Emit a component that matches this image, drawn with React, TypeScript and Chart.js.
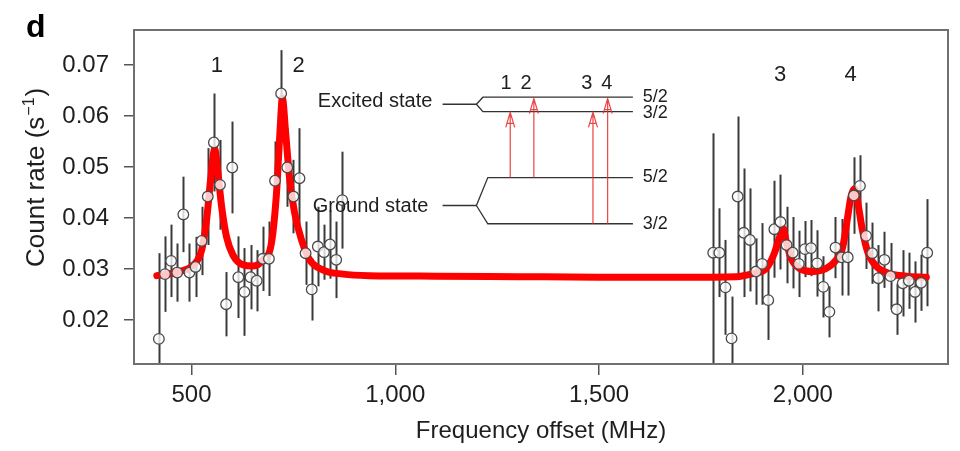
import React, { useEffect, useRef } from "react";
import { Chart, registerables } from "chart.js";

Chart.register(...registerables);

// ---- Data ----
const leftFreq = [420, 435, 450, 465, 480, 495, 510, 525, 540, 555, 570, 585, 600, 615, 630, 645, 660, 675, 690, 705, 720, 735, 750, 765, 780, 795, 810, 825, 840, 855, 870];
const leftRate = [0.0163, 0.029, 0.0316, 0.0293, 0.0407, 0.0293, 0.0304, 0.0355, 0.0442, 0.0548, 0.0465, 0.0231, 0.0499, 0.0284, 0.0255, 0.0284, 0.0277, 0.032, 0.032, 0.0473, 0.0644, 0.0499, 0.0442, 0.0478, 0.0331, 0.026, 0.0344, 0.0333, 0.0348, 0.0318, 0.0435];
const leftErr = [0.0168, 0.0074, 0.0071, 0.0057, 0.0074, 0.0057, 0.0059, 0.0067, 0.0095, 0.0096, 0.0088, 0.0063, 0.009, 0.008, 0.0086, 0.0063, 0.006, 0.0063, 0.0073, 0.0077, 0.0085, 0.0077, 0.0072, 0.0098, 0.0062, 0.0061, 0.0078, 0.0054, 0.0067, 0.0075, 0.0095];

const rightFreq = [1780, 1795, 1810, 1825, 1840, 1855, 1870, 1885, 1900, 1915, 1930, 1945, 1960, 1975, 1990, 2005, 2020, 2035, 2050, 2065, 2080, 2095, 2110, 2125, 2140, 2155, 2170, 2185, 2200, 2215, 2230, 2245, 2260, 2275, 2290, 2305];
const rightRate = [0.0332, 0.0332, 0.0264, 0.0164, 0.0442, 0.0371, 0.0357, 0.0295, 0.031, 0.0239, 0.0378, 0.0392, 0.0347, 0.0332, 0.031, 0.0339, 0.0341, 0.0311, 0.0265, 0.0216, 0.0342, 0.0323, 0.0323, 0.0444, 0.0463, 0.0365, 0.0331, 0.0282, 0.0318, 0.0286, 0.0221, 0.0272, 0.0277, 0.0255, 0.0273, 0.0332];
const rightErr = [0.0234, 0.0087, 0.0093, 0.0082, 0.0157, 0.0126, 0.0101, 0.0065, 0.008, 0.0078, 0.0095, 0.0093, 0.0075, 0.007, 0.0065, 0.0055, 0.0055, 0.0065, 0.006, 0.005, 0.006, 0.0075, 0.0075, 0.0075, 0.006, 0.0065, 0.006, 0.0065, 0.0055, 0.0065, 0.005, 0.0065, 0.0055, 0.006, 0.0055, 0.0105];

// Fit curve
const fitFreq = [415, 470, 505, 525, 537, 547, 557, 565, 574, 586, 602, 627, 651, 676, 696, 708, 717, 723, 731, 741, 753, 770, 790, 823, 872, 937, 1100, 1300, 1500, 1700, 1836, 1877, 1910, 1930, 1943, 1951, 1959, 1971, 1992, 2025, 2057, 2082, 2098, 2110, 2118, 2127, 2135, 2146, 2160, 2180, 2213, 2254, 2303];
const fitRate = [0.0287, 0.0295, 0.0308, 0.0337, 0.0396, 0.0475, 0.0535, 0.0488, 0.0422, 0.0363, 0.0327, 0.0308, 0.0306, 0.0318, 0.035, 0.0442, 0.0567, 0.0635, 0.0567, 0.0475, 0.041, 0.0357, 0.0318, 0.0298, 0.029, 0.0287, 0.0286, 0.0285, 0.0284, 0.0284, 0.0285, 0.0291, 0.0301, 0.0331, 0.0363, 0.038, 0.0354, 0.0321, 0.0301, 0.0295, 0.0301, 0.0318, 0.0344, 0.0403, 0.0442, 0.0458, 0.0429, 0.0376, 0.0331, 0.0305, 0.0291, 0.0286, 0.0284];

const xTicks = [500, 1000, 1500, 2000];
const yTicks = [0.02, 0.03, 0.04, 0.05, 0.06, 0.07];
const xRange = [359, 2356];
const yRange = [0.01138, 0.07685];

const peakNames = ["1", "2", "3", "4"];
const peakFreq = [562, 763, 1944, 2117];
const peakRate = [0.0698, 0.0698, 0.068, 0.068];

const xTitle = "Frequency offset (MHz)";
const yTitleMain = "Count rate (s";
const yTitleSup = "\u22121";
const panelLetter = "d";

const FONT = "'Liberation Sans', Arial, Helvetica, sans-serif";
const TEXT = "#1e1e1e";

const overlay = {
  id: "overlay",
  beforeDatasetsDraw(chart: any) {
    const { ctx, chartArea: a } = chart;
    const xs = chart.scales.x;
    const ys = chart.scales.y;
    ctx.save();
    ctx.beginPath();
    ctx.rect(a.left, a.top, a.right - a.left, a.bottom - a.top);
    ctx.clip();
    ctx.strokeStyle = "#3a3a3a";
    ctx.lineWidth = 2;
    const groups: [number[], number[], number[]][] = [
      [leftFreq, leftRate, leftErr],
      [rightFreq, rightRate, rightErr],
    ];
    groups.forEach(([f, r, e]) => {
      f.forEach((fv, i) => {
        const px = Math.round(xs.getPixelForValue(fv)) + 0.5;
        ctx.beginPath();
        ctx.moveTo(px, ys.getPixelForValue(r[i] - e[i]));
        ctx.lineTo(px, ys.getPixelForValue(r[i] + e[i]));
        ctx.stroke();
      });
    });
    ctx.restore();
  },
  afterDraw(chart: any) {
    const { ctx, chartArea: a } = chart;
    const xs = chart.scales.x;
    const ys = chart.scales.y;
    const X = (v: number) => xs.getPixelForValue(v);
    const Y = (v: number) => ys.getPixelForValue(v);
    ctx.save();

    // frame
    ctx.strokeStyle = "#707070";
    ctx.lineWidth = 2;
    ctx.strokeRect(a.left, a.top, a.right - a.left, a.bottom - a.top);

    // peak labels
    ctx.fillStyle = TEXT;
    ctx.font = `22px ${FONT}`;
    ctx.textAlign = "center";
    ctx.textBaseline = "middle";
    peakNames.forEach((n, i) => ctx.fillText(n, X(peakFreq[i]), Y(peakRate[i])));

    // inset: level diagram
    ctx.strokeStyle = "#333";
    ctx.lineWidth = 1.3;
    const line = (pts: number[][]) => {
      ctx.beginPath();
      pts.forEach(([f, r], k) => (k ? ctx.lineTo(X(f), Y(r)) : ctx.moveTo(X(f), Y(r))));
      ctx.stroke();
    };
    // excited
    line([[1116, 0.0623], [1199, 0.0623], [1215, 0.06368], [1583, 0.06368]]);
    line([[1199, 0.0623], [1215, 0.06086], [1583, 0.06086]]);
    // ground
    line([[1116, 0.04245], [1199, 0.04245], [1227, 0.04793], [1583, 0.04793]]);
    line([[1199, 0.04245], [1227, 0.03887], [1583, 0.03887]]);

    ctx.font = `20px ${FONT}`;
    ctx.textAlign = "left";
    ctx.fillText("Excited state", X(810), Y(0.0628));
    ctx.fillText("Ground state", X(797.5), Y(0.04225));

    ctx.font = `18px ${FONT}`;
    ctx.fillText("5/2", X(1607), Y(0.0637));
    ctx.fillText("3/2", X(1607), Y(0.0605));
    ctx.fillText("5/2", X(1607), Y(0.0481));
    ctx.fillText("3/2", X(1607), Y(0.0389));

    ctx.font = `20px ${FONT}`;
    ctx.textAlign = "center";
    [["1", 1272], ["2", 1321], ["3", 1470], ["4", 1519]].forEach(([t, f]) =>
      ctx.fillText(t as string, X(f as number), Y(0.0664))
    );

    // arrows
    ctx.strokeStyle = "rgba(232,48,48,0.9)";
    ctx.lineWidth = 1.2;
    const arrow = (f: number, r0: number, r1: number) => {
      const x = X(f);
      const y0 = Y(r0);
      const y1 = Y(r1);
      ctx.beginPath();
      ctx.moveTo(x, y0);
      ctx.lineTo(x, y1);
      ctx.moveTo(x - 4.5, y1 + 15);
      ctx.lineTo(x, y1);
      ctx.lineTo(x + 4.5, y1 + 15);
      ctx.moveTo(x - 3.2, y1 + 11);
      ctx.lineTo(x + 3.2, y1 + 11);
      ctx.stroke();
    };
    arrow(1282, 0.04793, 0.0607);
    arrow(1340, 0.04793, 0.0634);
    arrow(1485, 0.03887, 0.0607);
    arrow(1521, 0.03887, 0.0634);

    // y-axis title with superscript
    ctx.fillStyle = TEXT;
    ctx.translate(44, 267);
    ctx.rotate(-Math.PI / 2);
    ctx.textAlign = "left";
    ctx.textBaseline = "alphabetic";
    ctx.font = `26px ${FONT}`;
    ctx.fillText(yTitleMain, 0, 0);
    let w = ctx.measureText(yTitleMain).width;
    ctx.font = `16px ${FONT}`;
    ctx.fillText(yTitleSup, w + 1, -10);
    w += ctx.measureText(yTitleSup).width + 2;
    ctx.font = `26px ${FONT}`;
    ctx.fillText(")", w, 0);
    ctx.restore();

    // panel letter
    ctx.save();
    ctx.fillStyle = "#000";
    ctx.font = `bold 32px ${FONT}`;
    ctx.textAlign = "left";
    ctx.textBaseline = "alphabetic";
    ctx.fillText(panelLetter, 26, 37);
    ctx.restore();
  },
};

export default function App() {
  const ref = useRef<HTMLCanvasElement | null>(null);
  useEffect(() => {
    document.body.style.margin = "0";
    const canvas = ref.current;
    if (!canvas) return;
    const pointStyle = {
      pointRadius: 5.3,
      pointBackgroundColor: "rgba(255,255,255,0.78)",
      pointBorderColor: "#4a4a4a",
      pointBorderWidth: 1.3,
      showLine: false,
    };
    const chart = new Chart(canvas, {
      type: "scatter",
      data: {
        datasets: [
          {
            label: "fit",
            data: fitFreq.map((f, i) => ({ x: f, y: fitRate[i] })),
            showLine: true,
            borderColor: "#ff0000",
            borderWidth: 7,
            pointRadius: 0,
            cubicInterpolationMode: "monotone",
            borderJoinStyle: "round",
            borderCapStyle: "round",
            order: 2,
          } as any,
          {
            label: "low",
            data: leftFreq.map((f, i) => ({ x: f, y: leftRate[i] })),
            ...pointStyle,
            order: 0,
          } as any,
          {
            label: "high",
            data: rightFreq.map((f, i) => ({ x: f, y: rightRate[i] })),
            ...pointStyle,
            order: 0,
          } as any,
        ],
      },
      options: {
        responsive: false,
        animation: false,
        layout: { padding: { left: 0, top: 30, right: 12, bottom: 0 } },
        plugins: { legend: { display: false }, tooltip: { enabled: false } },
        scales: {
          x: {
            type: "linear",
            min: xRange[0],
            max: xRange[1],
            afterBuildTicks: (s: any) => {
              s.ticks = xTicks.map((v) => ({ value: v }));
            },
            afterFit: (s: any) => {
              s.height = 87;
            },
            grid: { drawOnChartArea: false, tickLength: 11, color: "#555", lineWidth: 1.5 },
            border: { display: false },
            ticks: {
              color: TEXT,
              font: { family: FONT, size: 24 },
              padding: 6,
              maxRotation: 0,
              callback: (v: any) => Number(v).toLocaleString("en-US"),
            },
            title: {
              display: true,
              text: xTitle,
              color: TEXT,
              font: { family: FONT, size: 24 },
              padding: { top: 0, bottom: 5 },
            },
          },
          y: {
            type: "linear",
            min: yRange[0],
            max: yRange[1],
            afterBuildTicks: (s: any) => {
              s.ticks = yTicks.map((v) => ({ value: v }));
            },
            afterFit: (s: any) => {
              s.width = 134;
            },
            grid: { drawOnChartArea: false, tickLength: 10, color: "#555", lineWidth: 1.5 },
            border: { display: false },
            ticks: {
              color: TEXT,
              font: { family: FONT, size: 24 },
              padding: 15,
              callback: (v: any) => Number(v).toFixed(2),
            },
          },
        },
      },
      plugins: [overlay],
    });
    return () => chart.destroy();
  }, []);
  return (
    <div style={{ width: 960, height: 451 }}>
      <canvas ref={ref} width={960} height={451} style={{ display: "block" }} />
    </div>
  );
}
